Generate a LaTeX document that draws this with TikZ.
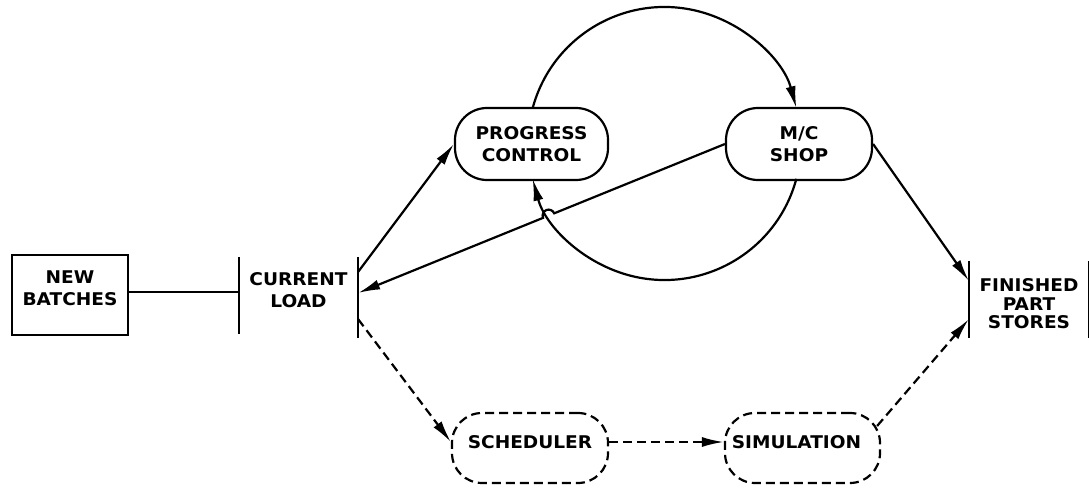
\documentclass[tikz,border=0pt]{standalone}
\usepackage{fontspec}
\newfontfamily\lettering[FakeStretch=1.06]{DejaVu Sans Bold}
\usetikzlibrary{arrows.meta,calc}
\begin{document}
\begin{tikzpicture}[x=1pt,y=1pt,
  line width=2.2pt,
  every node/.style={font=\lettering\fontsize{17.5}{22}\selectfont, align=center, inner sep=0pt},
  box/.style={draw, minimum width=116pt, minimum height=80pt},
  frame/.style={minimum width=#1, minimum height=75pt},
  pill/.style={draw, rounded corners=32pt, minimum width=#1, minimum height=72pt},
  dsh/.style={dash pattern=on 9pt off 5pt},
  dpill/.style={draw, dsh, rounded corners=30pt, minimum width=#1, minimum height=70pt},
  arr/.style={-{Latex[length=22pt,width=10pt]}},
]
\useasboundingbox (0,0) rectangle (1089,491);

% nodes
\node[box, label={[yshift=6.5pt]center:NEW\\BATCHES}] (nb) at (70,196) {};
\node[frame=117pt, label={[yshift=5pt]center:CURRENT\\LOAD}] (cl) at (298.5,195.5) {};
\draw (cl.north west) -- (cl.south west);
\draw (cl.north east) -- ([yshift=-4pt]cl.south east);
\node[pill=153pt] (pc) at (531.5,347) {PROGRESS\\CONTROL};
\node[pill=146pt] (mc) at (799,347) {M/C\\SHOP};
\node[dpill=156pt, label={[yshift=5.5pt]center:SCHEDULER}] (sch) at (530,43) {};
\node[dpill=155pt, label={[xshift=-6pt,yshift=5.5pt]center:SIMULATION}] (sim) at (802.5,43) {};
\node[frame=118pt, label={[font=\lettering\fontsize{17.5}{18.5}\selectfont, yshift=-4.5pt]center:FINISHED\\PART\\STORES}] (fps) at (1029,191.5) {};
\draw (fps.north west) -- (fps.south west);
\draw (fps.north east) -- (fps.south east);

% connectors
\draw ([yshift=3pt]nb.east) -- ([yshift=3pt]nb.east -| cl.west);
\draw[arr] ([yshift=-15pt]cl.north east) -- (pc.west);

\coordinate (o) at (664.5,347.5);
\draw[arr] ([shift={(165:136.5)}]o) arc[start angle=165,end angle=15,radius=136.5];
\draw[arr] ([shift={(-15:136.5)}]o) arc[start angle=-15,end angle=-165,radius=136.5];

\coordinate (hop) at (548.6,275.4);
\draw[arr] (mc.west) -- ([shift={(22.1:6)}]hop) arc[start angle=22.1,end angle=202.1,radius=6] -- ([yshift=2.5pt]cl.east);

\draw[arr] (mc.east) -- ([yshift=-20pt]fps.north west);

\draw[arr,dsh] ([yshift=15pt]cl.south east) -- ([yshift=6pt]sch.west);
\draw[arr,dsh] ([yshift=6pt]sch.east) -- ([yshift=6pt]sim.west);
\draw[arr,dsh] ([xshift=-4pt,yshift=22pt]sim.east) -- ([yshift=19pt]fps.south west);
\end{tikzpicture}
\end{document}
